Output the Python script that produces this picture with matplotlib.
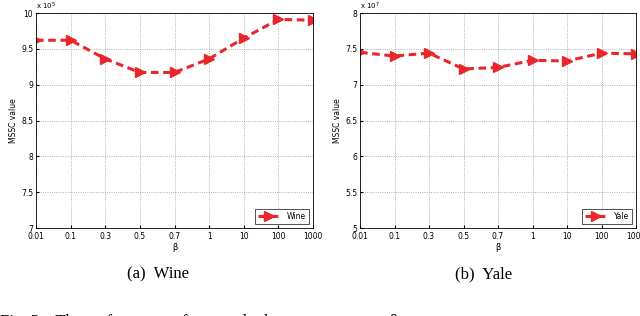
# MSSC value vs beta (Wine / Yale)

import numpy as np
import matplotlib.pyplot as plt

# データ
beta_labels = ['0.01', '0.1', '0.3', '0.5', '0.7', '1', '10', '100', '1000']
wine = [9.62, 9.62, 9.36, 9.17, 9.17, 9.36, 9.65, 9.91, 9.90]   # x 10^5
yale = [7.45, 7.40, 7.44, 7.22, 7.24, 7.34, 7.33, 7.44, 7.43]   # x 10^7

red = '#e8262b'

fig = plt.figure(figsize=(6.4, 3.16), dpi=100)
ax_1 = fig.add_axes([36/640, 1-228/316, 277/640, 215/316])
ax_2 = fig.add_axes([360/640, 1-228/316, 276/640, 215/316])

def draw(ax, y, ylim, yticks, exp, name):
    x = np.arange(len(beta_labels))
    ax.plot(x, y, ls='--', lw=2.2, color=red, marker='>', ms=7.5, label=name,
            dashes=(2.5, 1.5))
    ax.set_xlim(0, len(beta_labels)-1)
    ax.set_ylim(*ylim)
    ax.set_xticks(x)
    ax.set_xticklabels(beta_labels)
    ax.set_yticks(yticks)
    ax.set_yticklabels([f'{t:g}' for t in yticks])
    ax.tick_params(labelsize=5.5, length=2, direction='in', pad=2)
    ax.tick_params(axis='x', pad=3)
    ax.grid(True, ls=':', color='#999999', lw=0.6)
    ax.set_xlabel('β', fontsize=6, labelpad=1)
    ax.set_ylabel('MSSC value', fontsize=5.5, labelpad=2)
    for s in ax.spines.values():
        s.set_linewidth(0.6)
    ax.text(0, 1.005, f'x 10$^{{{exp}}}$', transform=ax.transAxes,
            fontsize=5, va='bottom', ha='left')
    leg = ax.legend(loc='lower right', fontsize=5.5, handlelength=3,
                    fancybox=False, edgecolor='black', borderpad=0.4)
    leg.get_frame().set_linewidth(0.6)

draw(ax_1, wine, (7, 10), [7, 7.5, 8, 8.5, 9, 9.5, 10], 5, 'Wine')
draw(ax_2, yale, (5, 8), [5, 5.5, 6, 6.5, 7, 7.5, 8], 7, 'Yale')

# キャプション
fig.text(158/640, 1-274/316, '(a)  Wine', fontsize=12, family='Liberation Serif',
         ha='center', va='center')
fig.text(484/640, 1-274/316, '(b)  Yale', fontsize=12, family='Liberation Serif',
         ha='center', va='center')
fig.text(0, 1-322/316, 'Fig. 5.   The performance of our method versus parameter β',
         fontsize=12, family='Liberation Serif', ha='left', va='center')

fig.savefig('out.png', dpi=100)
